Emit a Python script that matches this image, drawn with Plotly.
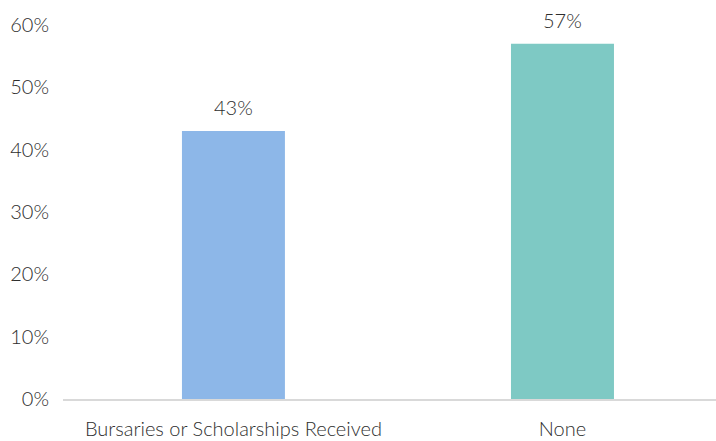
import plotly.graph_objects as go

categories = ["Bursaries or Scholarships Received", "None"]
values = [0.43, 0.57]
colors = ["#8DB7E8", "#7EC9C4"]
y_ticks = [0, 0.1, 0.2, 0.3, 0.4, 0.5, 0.6]

font_family = "Lato"
text_color = "#2E2E2E"
fsize = 20

fig = go.Figure(go.Bar(
    x=[0, 1],
    y=values,
    width=0.313,
    marker=dict(color=colors, line=dict(width=0)),
    cliponaxis=False,
))

for i, v in enumerate(values):
    fig.add_annotation(
        x=i, y=v, text=f"{v:.0%}", showarrow=False,
        yanchor="bottom", yshift=10,
        font=dict(family=font_family, size=fsize, color=text_color, weight=300),
    )

fig.update_layout(
    width=716, height=441,
    margin=dict(l=63, r=0, t=25, b=42),
    plot_bgcolor="white", paper_bgcolor="white",
    showlegend=False,
    font=dict(family=font_family, color=text_color, size=fsize, weight=300),
    xaxis=dict(
        range=[-0.518, 1.4666],
        tickmode="array", tickvals=[0, 1], ticktext=categories,
        showline=True, linecolor="#D9D9D9", linewidth=1.5,
        showgrid=False, zeroline=False,
        ticks="outside", ticklen=11, tickcolor="rgba(0,0,0,0)",
        tickfont=dict(family=font_family, size=fsize, color=text_color, weight=300),
    ),
    yaxis=dict(
        range=[0, 0.6],
        tickvals=y_ticks, tickformat=".0%",
        showgrid=False, zeroline=False, showline=False,
        ticks="outside", ticklen=9, tickcolor="rgba(0,0,0,0)",
        tickfont=dict(family=font_family, size=fsize, color=text_color, weight=300),
    ),
)

fig.write_html("out.html")
